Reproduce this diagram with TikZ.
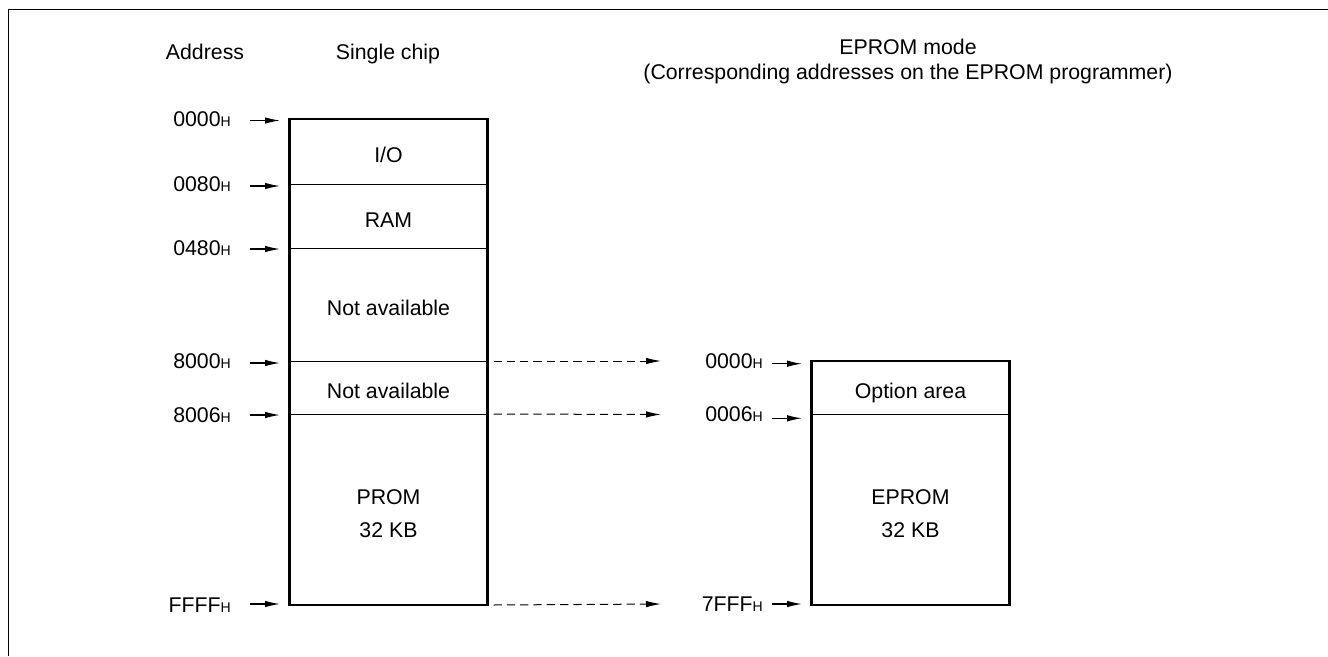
\documentclass[tikz,border=0pt]{standalone}
\usepackage{fontspec}
\setmainfont{Liberation Sans}
\usetikzlibrary{arrows.meta}
\newcommand{\adr}[2]{#1{\fontsize{14}{14}\selectfont #2}}
\tikzset{
 x=1pt,y=-1pt,
 lbl/.style={inner sep=0pt,anchor=base,font=\fontsize{21.3}{25}\selectfont},
 hdr/.style={inner sep=0pt,font=\fontsize{21.3}{25}\selectfont,align=center},
 adrl/.style={inner sep=0pt,anchor=base east,font=\fontsize{21.3}{24}\selectfont},
 mem/.style={draw,line width=1pt,minimum width=197pt,inner sep=0pt,anchor=north west,font=\fontsize{21.3}{33}\selectfont,align=center},
 one/.style={text height=21pt,text depth=0pt},
 outer/.style={draw,line width=2.4pt},
 arr/.style={line width=1.2pt,-{Latex[length=15pt,width=6.5pt]}},
 darr/.style={line width=1pt,dash pattern=on 8.3pt off 5pt,-{Latex[length=15pt,width=6.5pt]}},
}
\begin{document}
\begin{tikzpicture}
\useasboundingbox (0,0) rectangle (1328,656);
\draw[line width=1.3pt] (8.5,656) -- (8.5,9.5) -- (1328,9.5);
\node[lbl] (haddr) at (205,59) {Address};
\node[lbl] (hsingle) at (388,59.5) {Single chip};
\node[hdr] (heprom) at (908,61) {EPROM mode\\(Corresponding addresses on the EPROM programmer)};
% single chip
\node[mem,one,minimum height=65pt] (io) at (289.5,119) {I/O};
\node[mem,one,minimum height=64pt] (ram) at (289.5,184) {RAM};
\node[mem,one,minimum height=113pt] (na1) at (289.5,248) {Not available};
\node[mem,one,minimum height=53pt] (na2) at (289.5,361) {Not available};
\node[mem,minimum height=190pt] (prom) at (289.5,414) {\rule{0pt}{24pt}PROM\\32 KB};
\draw[outer] (io.north west) rectangle (prom.south east);
% eprom
\node[mem,one,minimum height=53pt] (opt) at (811.5,361) {Option area};
\node[mem,minimum height=190pt] (eprom) at (811.5,414) {\rule{0pt}{24pt}EPROM\\32 KB};
\draw[outer] (opt.north west) rectangle (eprom.south east);
% addresses
\node[adrl] (a0) at (231,126) {\adr{0000}{H}};
\node[adrl] (a1) at (231,191.7) {\adr{0080}{H}};
\node[adrl] (a2) at (231,255) {\adr{0480}{H}};
\node[adrl] (a3) at (231,368) {\adr{8000}{H}};
\node[adrl] (a4) at (231,422) {\adr{8006}{H}};
\node[adrl] (a5) at (231,612.7) {\adr{FFFF}{H}};
\node[adrl] (b0) at (763,368) {\adr{0000}{H}};
\node[adrl] (b1) at (763,421) {\adr{0006}{H}};
\node[adrl] (b2) at (763,611) {\adr{7FFF}{H}};
% left arrows
\coordinate (l0) at (249.5,120.5); \coordinate (t0) at (280,120.5);
\coordinate (l1) at (249.5,186); \coordinate (t1) at (280,186);
\coordinate (l2) at (249.5,249); \coordinate (t2) at (280,249);
\coordinate (l3) at (249.5,363); \coordinate (t3) at (280,363);
\coordinate (l4) at (249.5,415); \coordinate (t4) at (280,415);
\coordinate (l5) at (249.5,604); \coordinate (t5) at (280,604);
\foreach \i in {0,...,5} \draw[arr] (l\i) -- (t\i);
% right arrows
\coordinate (m0) at (772,363.7); \coordinate (n0) at (802,363.7);
\coordinate (m1) at (772,418.3); \coordinate (n1) at (802,418.3);
\coordinate (m2) at (772,604); \coordinate (n2) at (802,604);
\foreach \i in {0,1,2} \draw[arr] (m\i) -- (n\i);
% dashed
\coordinate (d0) at (661,361); \coordinate (d1) at (661,414.5); \coordinate (d2) at (661,604);
\draw[darr] (na2.north east)++(6,0) -- (d0);
\draw[darr] (prom.north east)++(6,0) -- (d1);
\draw[darr] (prom.south east)++(6,0) -- (d2);
\end{tikzpicture}
\end{document}
